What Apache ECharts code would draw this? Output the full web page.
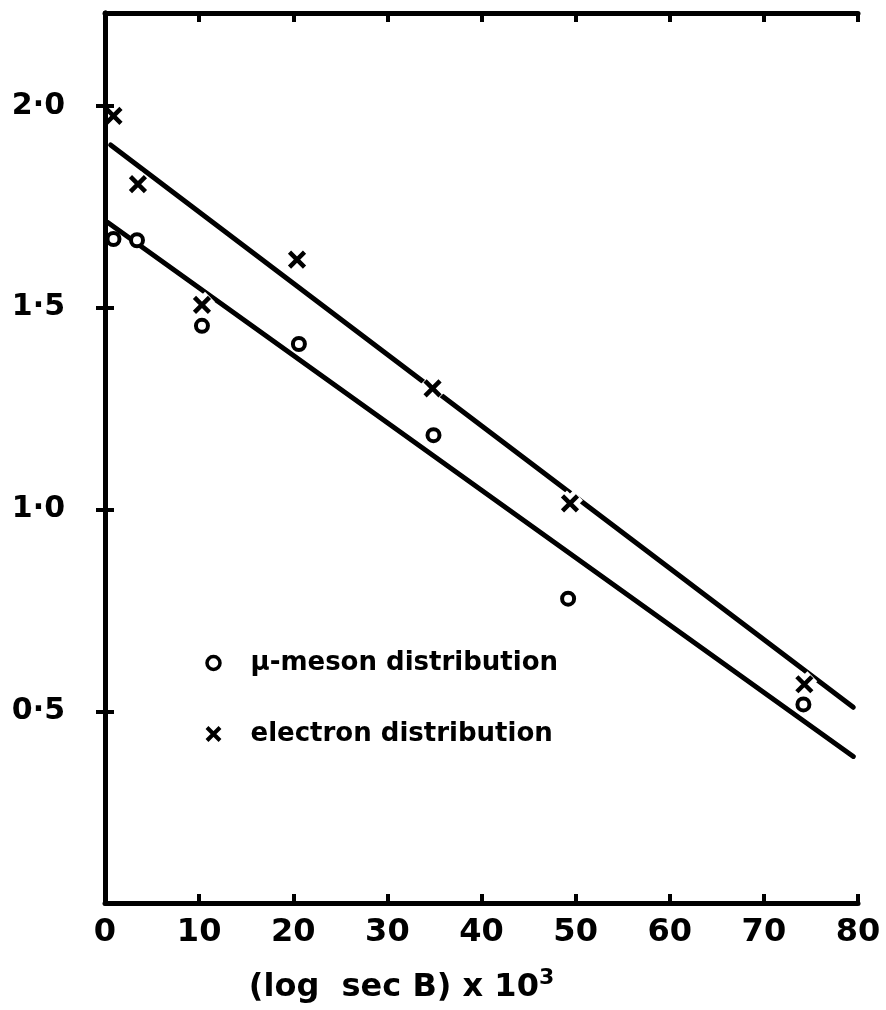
<!DOCTYPE html>
<html>
<head>
<meta charset="utf-8">
<script src="https://cdn.jsdelivr.net/npm/echarts@6/dist/echarts.min.js"></script>
<style>
  html, body { margin: 0; padding: 0; background: #fff; }
  #chart { width: 886px; height: 1010px; }
</style>
</head>
<body>
<div id="chart"></div>
<script>
// (log sec B) x 10^3 against the two measured distributions
const mesonPoints = [
  [0.9, 1.67], [3.4, 1.667], [10.3, 1.455], [20.6, 1.41],
  [34.9, 1.184], [49.2, 0.779], [74.2, 0.517]
];
const electronPoints = [
  [0.9, 1.975], [3.5, 1.806], [10.3, 1.507], [20.4, 1.619],
  [34.8, 1.30], [49.4, 1.015], [74.3, 0.567]
];
// drawn best-fit lines (end points)
const electronFit = [[0.6, 1.903], [79.5, 0.51]];
const mesonFit = [[0.3, 1.711], [79.5, 0.388]];

const xTicks = [0, 10, 20, 30, 40, 50, 60, 70, 80];
const yTicks = [0.5, 1.0, 1.5, 2.0];

const MESON = '\u03bc-meson distribution';
const ELECTRON = 'electron distribution';

const FONT = '"DejaVu Sans", "Liberation Sans", sans-serif';
const INK = '#000';
const CROSS = 'path://M0,0 L10,10 M10,0 L0,10';

const chart = echarts.init(document.getElementById('chart'), null, { renderer: 'canvas' });

const axisLine = { show: true, lineStyle: { color: INK, width: 5, cap: 'round' } };
const tick = { show: true, inside: true, length: 9, lineStyle: { color: INK, width: 4 } };

chart.setOption({
  backgroundColor: '#fff',
  animation: false,
  grid: { left: 105, right: 28, top: 13, bottom: 107 },
  xAxis: [
    {
      type: 'value', min: 0, max: 80, interval: 10, position: 'bottom',
      axisLine, axisTick: tick, splitLine: { show: false },
      axisLabel: { color: INK, fontFamily: FONT, fontWeight: 'bold', fontSize: 32, margin: 14,
        customValues: xTicks },
      name: '(log  sec B) x 10{sup|3}',
      nameLocation: 'middle', nameGap: 64,
      nameTextStyle: {
        color: INK, fontFamily: FONT, fontWeight: 'bold', fontSize: 32, padding: [0, 0, 0, -160],
        rich: { sup: { fontFamily: FONT, fontWeight: 'bold', fontSize: 22, verticalAlign: 'top', padding: [0, 0, 20, 0] } }
      }
    },
    {
      type: 'value', min: 0, max: 80, interval: 10, position: 'top',
      axisLine, axisTick: tick, axisLabel: { show: false }, splitLine: { show: false }
    }
  ],
  yAxis: [
    {
      type: 'value', min: 0.025, max: 2.23, position: 'left',
      axisLine, splitLine: { show: false },
      axisTick: Object.assign({ customValues: yTicks }, tick),
      axisLabel: {
        color: INK, fontFamily: FONT, fontWeight: 'bold', fontSize: 30, margin: 40,
        customValues: yTicks,
        formatter: v => v.toFixed(1).replace('.', '\u00b7')
      }
    },
    {
      type: 'value', min: 0.025, max: 2.23, position: 'right',
      axisLine, splitLine: { show: false },
      axisTick: Object.assign({ customValues: yTicks }, tick),
      axisLabel: { show: false }
    }
  ],
  legend: {
    orient: 'vertical', left: 200, top: 643,
    itemWidth: 64, itemHeight: 13, itemGap: 41,
    data: [
      { name: MESON, itemStyle: { color: '#fff', borderColor: INK, borderWidth: 3.5, opacity: 1 } },
      { name: ELECTRON, itemStyle: { color: 'transparent', borderColor: INK, borderWidth: 4, opacity: 1 } }
    ],
    textStyle: { color: INK, fontFamily: FONT, fontWeight: 'bold', fontSize: 26, lineHeight: 30 }
  },
  series: [
    {
      name: 'electron fit', type: 'line', data: electronFit, showSymbol: false, silent: true,
      lineStyle: { color: INK, width: 5, cap: 'round' }, z: 2
    },
    {
      name: 'meson fit', type: 'line', data: mesonFit, showSymbol: false, silent: true,
      lineStyle: { color: INK, width: 5, cap: 'round' }, z: 2
    },
    // white halo so the hand-drawn lines break around the crosses
    {
      name: 'halo', type: 'scatter', data: electronPoints.slice(1), symbol: CROSS, symbolSize: 16, silent: true,
      itemStyle: { color: 'transparent', borderColor: '#fff', borderWidth: 14, opacity: 1 }, z: 3
    },
    {
      name: MESON, type: 'scatter', data: mesonPoints,
      symbol: 'circle', symbolSize: 12,
      itemStyle: { color: '#fff', borderColor: INK, borderWidth: 4, opacity: 1 }, z: 4
    },
    {
      name: ELECTRON, type: 'scatter', data: electronPoints,
      symbol: CROSS, symbolSize: 15,
      itemStyle: { color: 'transparent', borderColor: INK, borderWidth: 4.5, opacity: 1 }, z: 5
    }
  ]
});
</script>
</body>
</html>
